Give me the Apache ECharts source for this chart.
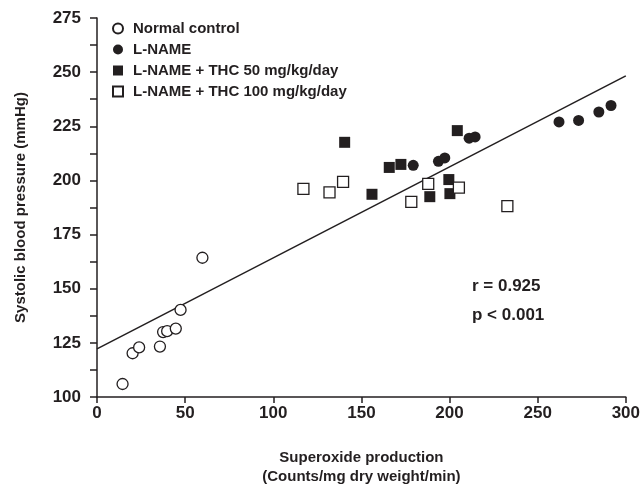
<!DOCTYPE html>
<html><head><meta charset="utf-8">
<script src="https://cdn.jsdelivr.net/npm/echarts@6/dist/echarts.min.js"></script>
<style>html,body{margin:0;padding:0;background:#fff}#c{width:643px;height:491px}</style>
</head><body><div id="c"></div>
<script>
const seriesNames = ['Normal control', 'L-NAME', 'L-NAME + THC 50 mg/kg/day', 'L-NAME + THC 100 mg/kg/day'];
const normalX = [14.5, 20.2, 23.9, 35.7, 37.5, 39.8, 44.7, 47.4, 59.8];
const normalY = [106, 120.2, 122.9, 123.3, 130, 130.4, 131.6, 140.2, 164.3];
const lnameX = [179.4, 193.7, 197.3, 211.1, 214.5, 262.1, 273.2, 284.7, 291.6];
const lnameY = [207, 208.8, 210.4, 219.5, 220.1, 227, 227.7, 231.6, 234.6];
const thc50X = [140.5, 156, 165.8, 172.4, 188.8, 199.6, 200.2, 204.4];
const thc50Y = [217.6, 193.6, 206, 207.4, 192.5, 200.4, 193.9, 223];
const thc100X = [117.1, 131.9, 139.6, 178.3, 187.9, 205.3, 232.8];
const thc100Y = [196.1, 194.5, 199.3, 190.1, 198.4, 196.7, 188.1];
const fitX = [0, 300];
const fitY = [122.2, 248.3];
const xTicks = [0, 50, 100, 150, 200, 250, 300];
const yTicks = [100, 125, 150, 175, 200, 225, 250, 275];
const annotations = ['r = 0.925', 'p < 0.001'];

const zip = (xs, ys) => xs.map((x, i) => [x, ys[i]]);
const ink = '#231f20';
const font = 'Liberation Sans, Arial, Helvetica, sans-serif';

const chart = echarts.init(document.getElementById('c'), null, {renderer: 'canvas'});
chart.setOption({
  animation: false,
  backgroundColor: '#fff',
  textStyle: {fontFamily: font},
  grid: {left: 97, right: 16, top: 18, bottom: 93},
  legend: {
    orient: 'vertical', left: 107, top: 16, itemGap: 6,
    itemWidth: 10, itemHeight: 10,
    data: seriesNames,
    textStyle: {fontFamily: font, fontWeight: 'bold', fontSize: 15, color: ink, lineHeight: 15, padding: [0, 0, 0, 5]}
  },
  xAxis: {
    type: 'value', min: xTicks[0], max: xTicks[xTicks.length - 1], interval: 50,
    name: 'Superoxide production\n(Counts/mg dry weight/min)',
    nameLocation: 'middle', nameGap: 51,
    nameTextStyle: {fontFamily: font, fontWeight: 'bold', fontSize: 15, color: ink, lineHeight: 19},
    axisLine: {lineStyle: {color: ink, width: 1.5}},
    axisTick: {show: true, length: 6, lineStyle: {color: ink, width: 1.5}},
    axisLabel: {fontFamily: font, fontWeight: 'bold', fontSize: 17, color: ink, margin: 8,
      formatter: v => xTicks.includes(v) ? String(v) : ''},
    splitLine: {show: false}
  },
  yAxis: {
    type: 'value', min: yTicks[0], max: yTicks[yTicks.length - 1], interval: 12.5,
    name: 'Systolic blood pressure (mmHg)',
    nameLocation: 'middle', nameGap: 69,
    nameTextStyle: {fontFamily: font, fontWeight: 'bold', fontSize: 15, color: ink},
    axisLine: {show: true, lineStyle: {color: ink, width: 1.5}},
    axisTick: {show: true, length: 7, lineStyle: {color: ink, width: 1.5}},
    axisLabel: {fontFamily: font, fontWeight: 'bold', fontSize: 17, color: ink, margin: 16,
      formatter: v => yTicks.includes(v) ? String(v) : ''},
    splitLine: {show: false}
  },
  graphic: [
    {type: 'text', left: 472, top: 278, style: {text: annotations[0], font: 'bold 17px ' + font, fill: ink}},
    {type: 'text', left: 472, top: 307, style: {text: annotations[1], font: 'bold 17px ' + font, fill: ink}}
  ],
  series: [
    {type: 'line', data: zip(fitX, fitY), symbol: 'none', silent: true,
      lineStyle: {color: ink, width: 1.5}, z: 1},
    {name: seriesNames[0], type: 'scatter', data: zip(normalX, normalY), symbol: 'circle', symbolSize: 11,
      itemStyle: {color: '#fff', borderColor: ink, borderWidth: 1.3, opacity: 1}, z: 3},
    {name: seriesNames[1], type: 'scatter', data: zip(lnameX, lnameY), symbol: 'circle', symbolSize: 11,
      itemStyle: {color: ink, opacity: 1}, z: 3},
    {name: seriesNames[2], type: 'scatter', data: zip(thc50X, thc50Y), symbol: 'rect', symbolSize: 11,
      itemStyle: {color: ink, opacity: 1}, z: 3},
    {name: seriesNames[3], type: 'scatter', data: zip(thc100X, thc100Y), symbol: 'rect', symbolSize: 11,
      itemStyle: {color: '#fff', borderColor: ink, borderWidth: 1.3, opacity: 1}, z: 3}
  ]
});
</script>
</body></html>
